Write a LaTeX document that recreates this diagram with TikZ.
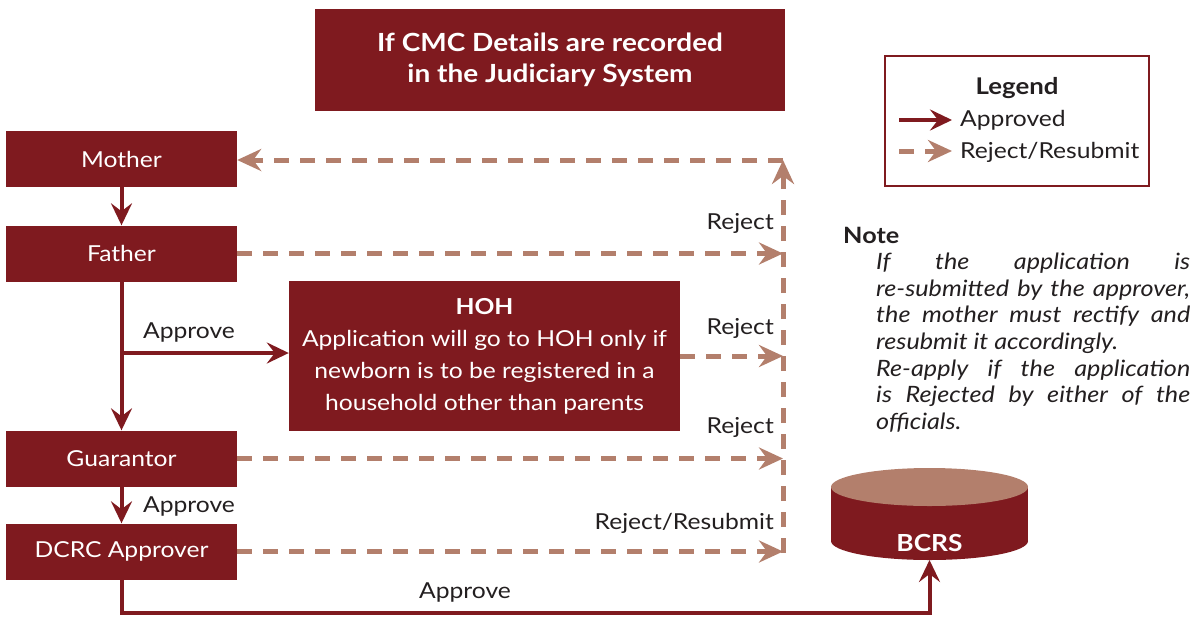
\documentclass[tikz,border=0pt]{standalone}
\usepackage{fontspec}
\setmainfont{Lato}[FakeStretch=1.12]
\usetikzlibrary{arrows.meta}
\definecolor{dred}{HTML}{7F1A1F}
\definecolor{tanc}{HTML}{B37F6C}
\definecolor{ink}{HTML}{231F20}
\begin{document}
\begin{tikzpicture}[x=1pt,y=-1pt,
 box/.style={fill=dred,text=white,minimum width=231pt,minimum height=56pt,inner sep=0pt,font=\fontsize{22}{25}\selectfont},
 ok/.style={draw=dred,line width=4pt,-{Stealth[length=22pt,width=21pt,inset=8pt]}},
 rej/.style={draw=tanc,line width=5pt,dash pattern=on 15pt off 11pt,-{Stealth[length=24pt,width=22pt,inset=8pt]}},
 lbl/.style={text=ink,font=\fontsize{22}{25}\selectfont,inner sep=0pt},
 notef/.style={text=ink,font=\fontsize{22.5}{26.6}\selectfont\itshape,inner sep=0pt,align=left},
]
\useasboundingbox (0,0) rectangle (1198,619);

\node[fill=dred,text=white,minimum width=470pt,minimum height=102pt,inner sep=0pt,align=center,
  font=\fontsize{25}{31}\selectfont\bfseries] (title) at (550,60)
  {If CMC Details are recorded\\in the Judiciary System};

\node[box] (mother) at (121.5,159) {Mother};
\node[box] (father) at (121.5,253.5) {Father};
\node[box] (guar) at (121.5,458.5) {Guarantor};
\node[box] (dcrc) at (121.5,551.5) {DCRC Approver};
\node[fill=dred,text=white,minimum width=391pt,minimum height=150pt,inner sep=0pt,align=center,
  font=\fontsize{22}{32}\selectfont] (hoh) at (484.5,356)
  {\textbf{HOH}\\Application will go to HOH only if\\newborn is to be registered in a\\household other than parents};

% BCRS cylinder
\fill[dred] (831,487) rectangle (1028,541);
\fill[dred] (929.5,541) ellipse [x radius=98.5pt, y radius=19pt];
\fill[tanc] (929.5,487) ellipse [x radius=98.5pt, y radius=19pt];
\node[text=white,font=\fontsize{23.5}{26}\selectfont\bfseries,inner sep=0pt] (bcrs) at (929.5,543) {BCRS};
\coordinate (bcrsbot) at (929.5,560);

% approved flow
\draw[ok] (mother.south) -- (father.north);
\draw[ok] (father.south) -- (guar.north);
\coordinate (br) at (121.5,353);
\draw[ok] (br) -- (br -| hoh.west);
\draw[ok] (guar.south) -- (dcrc.north);
\coordinate (bl) at (121.5,613);
\draw[ok] (dcrc.south) -- (bl) -| (bcrsbot);

\node[lbl] (ap1) at (189,332) {Approve};
\node[lbl] (ap2) at (189,506) {Approve};
\node[lbl] (ap3) at (465,592) {Approve};

% reject flow
\coordinate (top) at (783,160);
\coordinate (bot) at (783,553);
\draw[rej] (father.east) -- (father.east -| top);
\draw[rej] (hoh.east) -- (hoh.east -| top);
\draw[rej] (guar.east) -- (guar.east -| top);
\draw[rej] (dcrc.east) -- (dcrc.east -| top);
\draw[rej] (bot) -- (top);
\draw[rej] (top) -- (top -| mother.east);

\node[lbl,anchor=east] (r1) at (774,223) {Reject};
\node[lbl,anchor=east] (r2) at (774,328) {Reject};
\node[lbl,anchor=east] (r3) at (774,427) {Reject};
\node[lbl,anchor=east] (r4) at (774,523) {Reject/Resubmit};

% legend
\node[draw=dred,line width=2.5pt,minimum width=264pt,minimum height=130pt,inner sep=0pt] (leg) at (1017,121) {};
\node[text=ink,font=\fontsize{23}{24}\selectfont\bfseries,inner sep=0pt] (legt) at (1017,88) {Legend};
\coordinate (la1) at (899,120);
\coordinate (la2) at (952,120);
\draw[draw=dred,line width=4pt,-{Stealth[length=22pt,width=21pt,inset=8pt]}] (la1) -- (la2);
\coordinate (lb1) at (899,151);
\coordinate (lb2) at (952,151);
\draw[draw=tanc,line width=5pt,dash pattern=on 15pt off 11pt,-{Stealth[length=24pt,width=22pt,inset=8pt]}] (lb1) -- (lb2);
\node[lbl,anchor=west] (lgA) at (960,120) {Approved};
\node[lbl,anchor=west] (lgR) at (960,152) {Reject/Resubmit};

% note
\node[text=ink,font=\fontsize{22.5}{25}\selectfont\bfseries,inner sep=0pt,anchor=west] (note) at (843,235) {Note};
\node[notef,anchor=north west] (notetxt) at (876,253)
 {\makebox[314pt][s]{If the application is}\\
  \makebox[314pt][s]{re-submitted by the approver,}\\
  \makebox[314pt][s]{the mother must rectify and}\\
  resubmit it accordingly.\\
  \makebox[314pt][s]{Re-apply if the application}\\
  \makebox[314pt][s]{is Rejected by either of the}\\
  officials.};
\end{tikzpicture}
\end{document}
